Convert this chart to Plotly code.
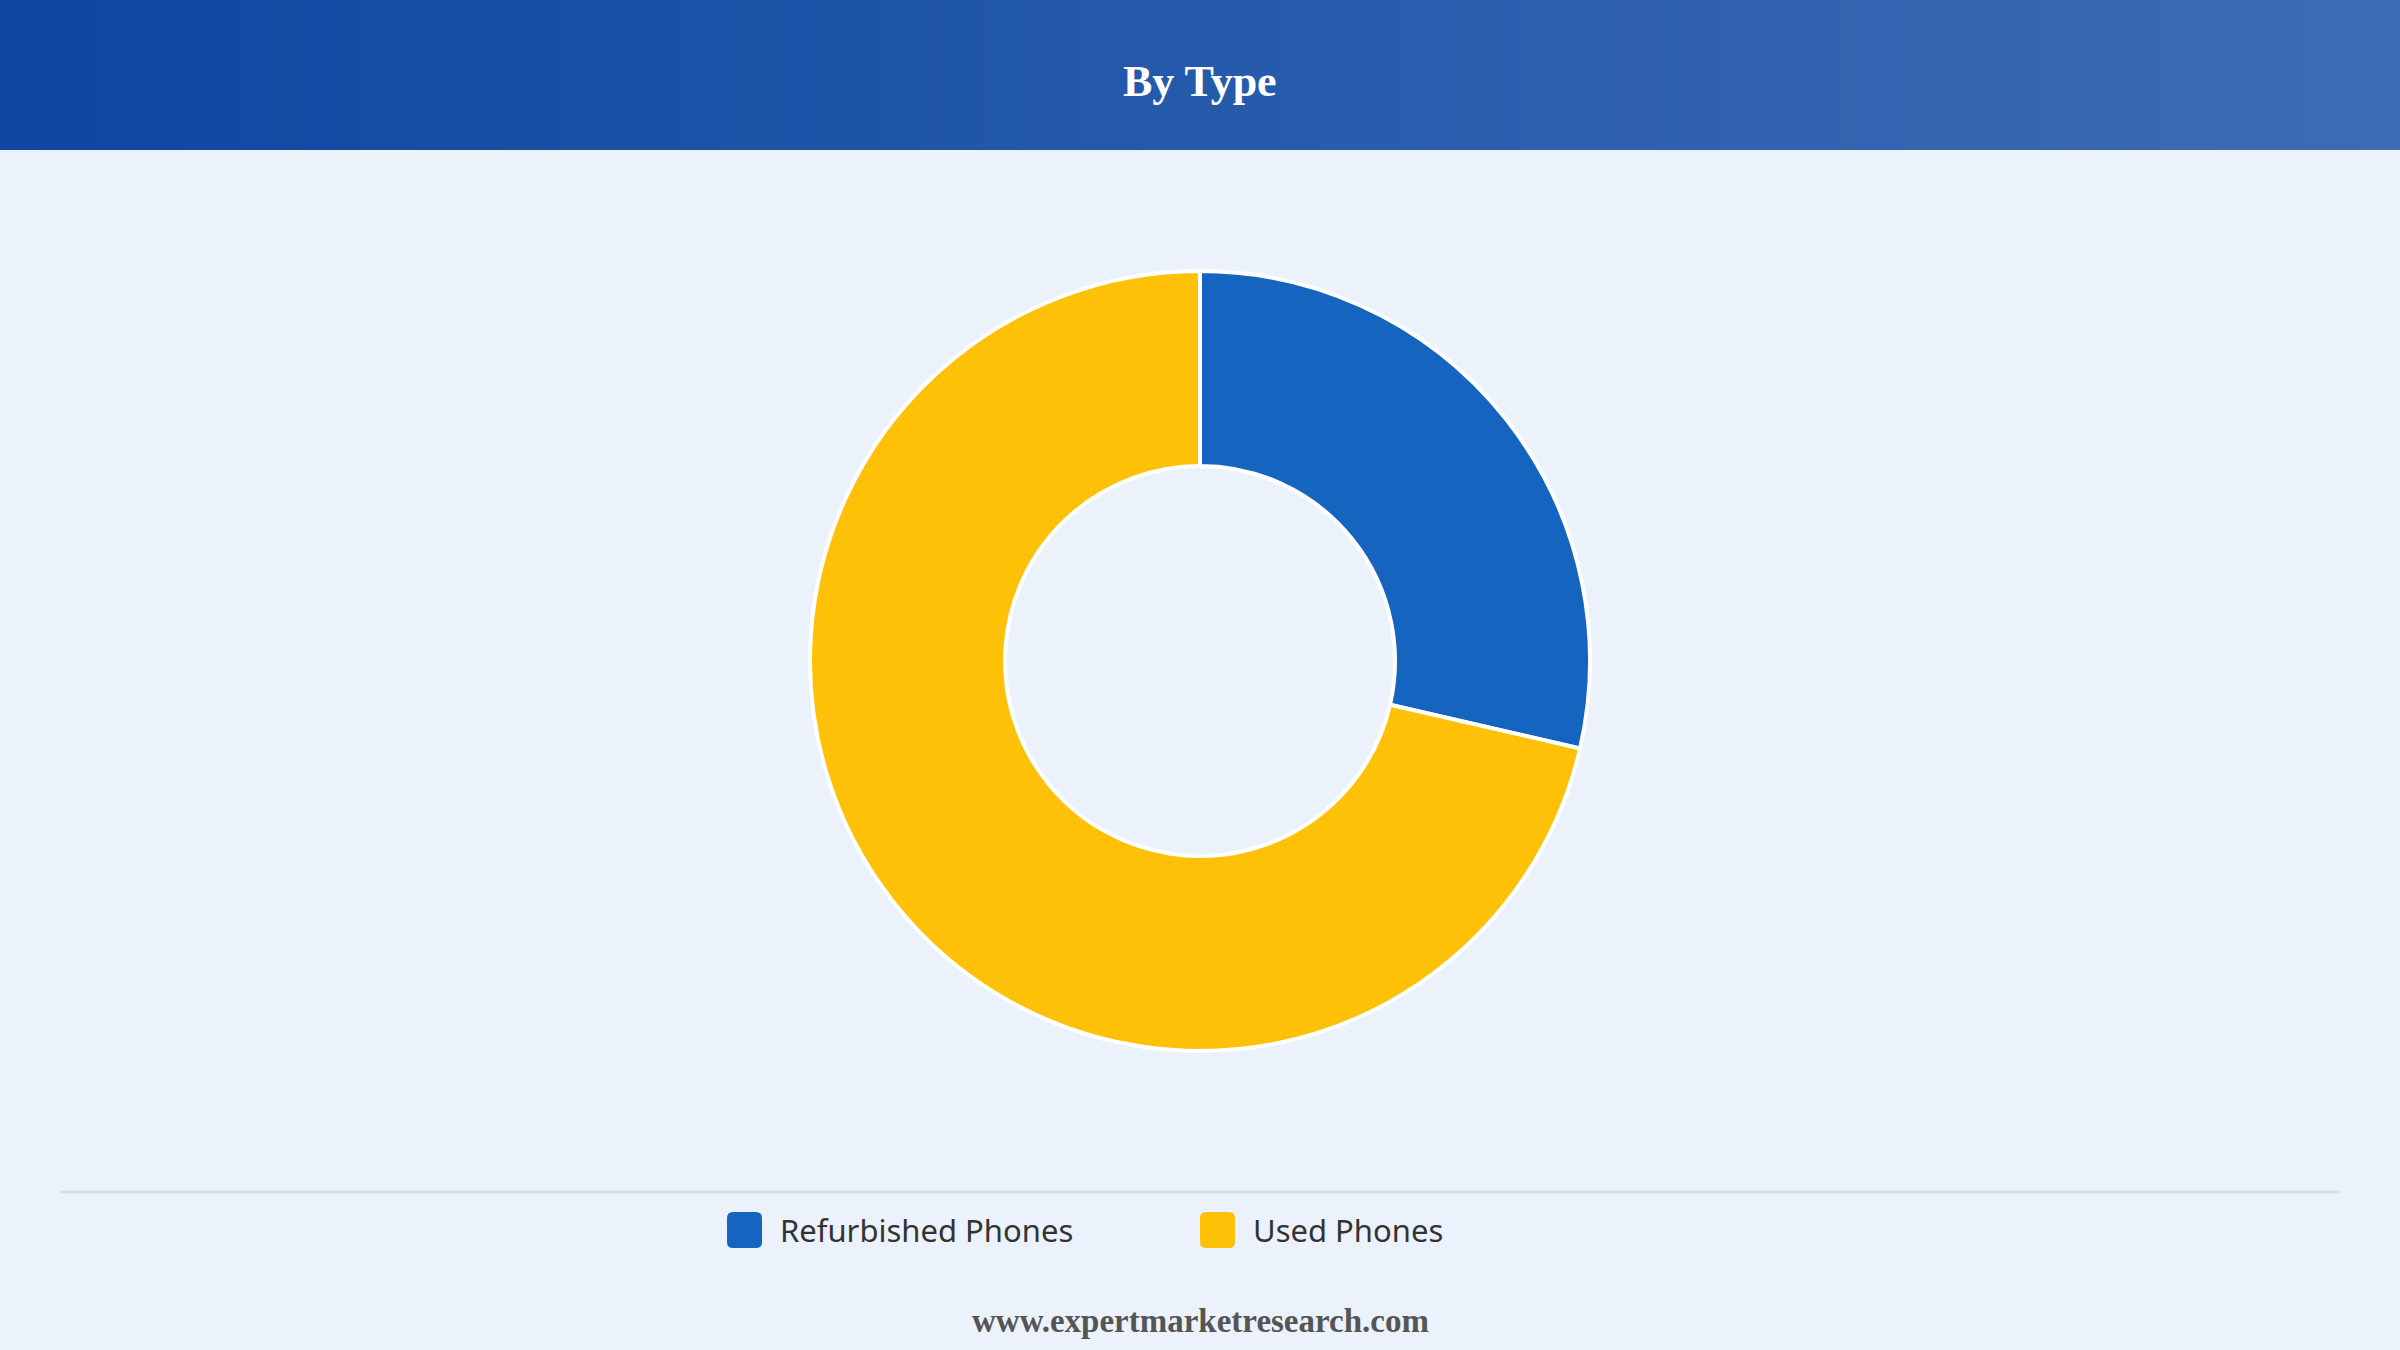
import plotly.graph_objects as go

# ---- data ----
categories = ["Refurbished Phones", "Used Phones"]
shares = [28.6, 71.4]
colors = ["#1565C0", "#FFC107"]
title_text = "By Type"
footer_text = "www.expertmarketresearch.com"

W, H = 2400, 1350
BG = "#EBF2FB"

def px(x):
    return x / W

def py(y):
    return 1 - y / H

fig = go.Figure()

cx, cy, R = 1200, 661, 390
fig.add_trace(go.Pie(
    labels=categories,
    values=shares,
    hole=0.5,
    sort=False,
    direction="clockwise",
    rotation=0,
    marker=dict(colors=colors, line=dict(color="white", width=4)),
    textinfo="none",
    hoverinfo="label+percent",
    showlegend=False,
    domain=dict(x=[px(cx - R), px(cx + R)], y=[py(cy + R), py(cy - R)]),
))

shapes = []
# header gradient
n = 120
c0 = (13, 71, 161)
c1 = (61, 108, 181)
hh = 150
for i in range(n):
    t = i / (n - 1)
    c = tuple(round(c0[k] + (c1[k] - c0[k]) * t) for k in range(3))
    x0 = W * i / n
    x1 = W * (i + 1) / n + 1
    shapes.append(dict(type="rect", xref="paper", yref="paper",
                       x0=px(x0), x1=px(x1), y0=py(hh), y1=1,
                       fillcolor=f"rgb{c}", line=dict(width=0), layer="below"))

# separator
shapes.append(dict(type="line", xref="paper", yref="paper",
                   x0=px(60), x1=px(2339), y0=py(1192), y1=py(1192),
                   line=dict(color="#DADDE2", width=3)))

def rounded_rect(x0, y0, x1, y1, r, color):
    X = lambda v: px(v)
    Y = lambda v: py(v)
    path = (f"M {X(x0+r)},{Y(y0)} L {X(x1-r)},{Y(y0)} Q {X(x1)},{Y(y0)} {X(x1)},{Y(y0+r)} "
            f"L {X(x1)},{Y(y1-r)} Q {X(x1)},{Y(y1)} {X(x1-r)},{Y(y1)} "
            f"L {X(x0+r)},{Y(y1)} Q {X(x0)},{Y(y1)} {X(x0)},{Y(y1-r)} "
            f"L {X(x0)},{Y(y0+r)} Q {X(x0)},{Y(y0)} {X(x0+r)},{Y(y0)} Z")
    return dict(type="path", xref="paper", yref="paper", path=path,
                fillcolor=color, line=dict(width=0))

legend_x = [727, 1200]
ly = 1230
annotations = []
for i, (cat, col) in enumerate(zip(categories, colors)):
    x = legend_x[i]
    shapes.append(rounded_rect(x, ly - 18, x + 35, ly + 18, 6, col))
    annotations.append(dict(x=px(x + 51), y=py(ly), xref="paper", yref="paper",
                            text=cat, showarrow=False, xanchor="left", yanchor="middle",
                            font=dict(family="Noto Sans", size=31, color="#333333")))

annotations.append(dict(x=0.5, y=py(81), xref="paper", yref="paper", text=f"<b>{title_text}</b>",
                        showarrow=False, xanchor="center", yanchor="middle",
                        font=dict(family="Liberation Serif", size=44, color="white")))
annotations.append(dict(x=0.5, y=py(1321), xref="paper", yref="paper", text=f"<b>{footer_text}</b>",
                        showarrow=False, xanchor="center", yanchor="middle",
                        font=dict(family="Liberation Serif", size=33, color="#555555")))

fig.update_layout(
    width=W, height=H,
    margin=dict(l=0, r=0, t=0, b=0),
    paper_bgcolor=BG, plot_bgcolor=BG,
    shapes=shapes, annotations=annotations,
    showlegend=False,
)

fig.write_html("out.html", config={"displayModeBar": False})
